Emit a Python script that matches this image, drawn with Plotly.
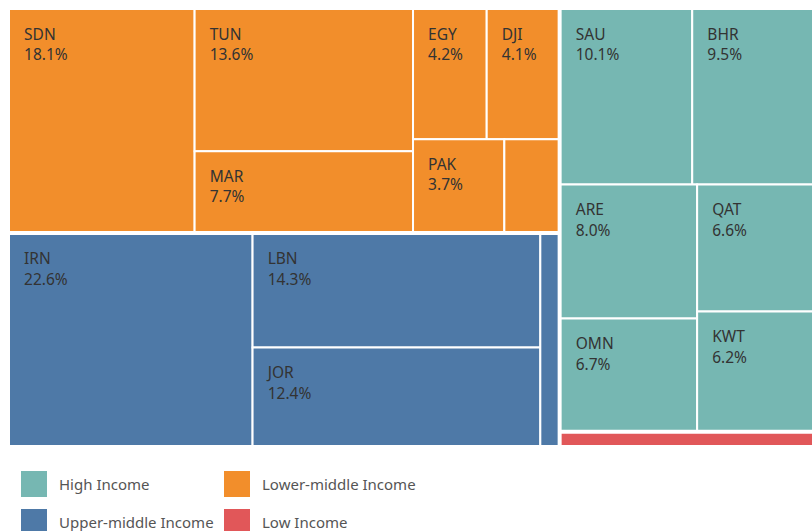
import plotly.graph_objects as go

# ---- data ----
income_groups = ["Lower-middle Income", "Upper-middle Income", "High Income", "Low Income"]
group_colors = ["#F28E2B", "#4E79A7", "#76B7B2", "#E15759"]

countries = ["SDN", "TUN", "MAR", "EGY", "DJI", "PAK", "MRT",
             "IRN", "LBN", "JOR", "IRQ",
             "SAU", "BHR", "ARE", "OMN", "QAT", "KWT",
             "YEM"]
country_group = ["Lower-middle Income"] * 7 + ["Upper-middle Income"] * 4 + ["High Income"] * 6 + ["Low Income"]
shares = [18.1, 13.6, 7.7, 4.2, 4.1, 3.7, 2.2,
          22.6, 14.3, 12.4, 1.7,
          10.1, 9.5, 8.0, 6.7, 6.6, 6.2,
          1.7]

legend_order = ["High Income", "Lower-middle Income", "Upper-middle Income", "Low Income"]

# ---- build hierarchy ----
color_of = dict(zip(income_groups, group_colors))
SP = "\u00a0"


def big(s):
    return f"<span style='font-size:15.5px'>{SP * 3}{s}</span>"


def tile_text(code, v):
    if v < 3:
        return ""
    return (f"<span style='font-size:6.5px'>{SP}</span><br>{SP}<br>{big(code)}<br>{SP}<br>"
            f"{big(f'{v:.1f}%')}")


ids, labels, parents, values, colors, texts = [], [], [], [], [], []
for g in income_groups:
    ids.append(g)
    labels.append(g)
    parents.append("")
    values.append(round(sum(v for c, gg, v in zip(countries, country_group, shares) if gg == g), 2))
    colors.append(color_of[g])
    texts.append("")
for c, g, v in zip(countries, country_group, shares):
    ids.append(c)
    labels.append(c)
    parents.append(g)
    values.append(v)
    colors.append(color_of[g])
    texts.append(tile_text(c, v))

# figure is a bit larger than the window; the page clips it like the original
W, H = 826, 545
fig = go.Figure()
fig.add_trace(go.Treemap(
    ids=ids, labels=labels, parents=parents, values=values,
    branchvalues="total",
    sort=True,
    text=texts,
    texttemplate="%{text}",
    textposition="top left",
    textfont=dict(family="Noto Sans", size=7.9, color="#333333"),
    tiling=dict(packing="squarify", squarifyratio=1.55, pad=0),
    marker=dict(colors=colors, line=dict(width=2, color="white"),
                pad=dict(t=1, l=1, r=1, b=1)),
    pathbar=dict(visible=False),
    hoverinfo="label+value",
    domain=dict(x=[7 / W, 818 / W], y=[1 - 448 / H, 1 - 7 / H]),
))

# ---- legend (two columns) ----
shapes, annotations = [], []
for i, g in enumerate(legend_order):
    col, row = i % 2, i // 2
    x0 = 21 + col * 203
    y0 = 471 + row * 38
    shapes.append(dict(type="rect", xref="paper", yref="paper",
                       x0=x0 / W, x1=(x0 + 26) / W,
                       y0=1 - y0 / H, y1=1 - (y0 + 26) / H,
                       fillcolor=color_of[g], line=dict(width=0)))
    annotations.append(dict(xref="paper", yref="paper", x=(x0 + 35.5) / W, y=1 - (y0 + 12.5) / H,
                            text=g, showarrow=False, xanchor="left", yanchor="middle",
                            font=dict(family="Noto Sans", size=15, color="#555555")))

fig.update_layout(width=W, height=H, autosize=False,
                  margin=dict(l=0, r=0, t=0, b=0),
                  paper_bgcolor="white", plot_bgcolor="white",
                  shapes=shapes, annotations=annotations)

fig.write_html("out.html",
               config={"displayModeBar": False},
               post_script="document.body.style.margin='0';document.body.style.overflow='hidden';"
                           "document.documentElement.style.overflow='hidden';")
